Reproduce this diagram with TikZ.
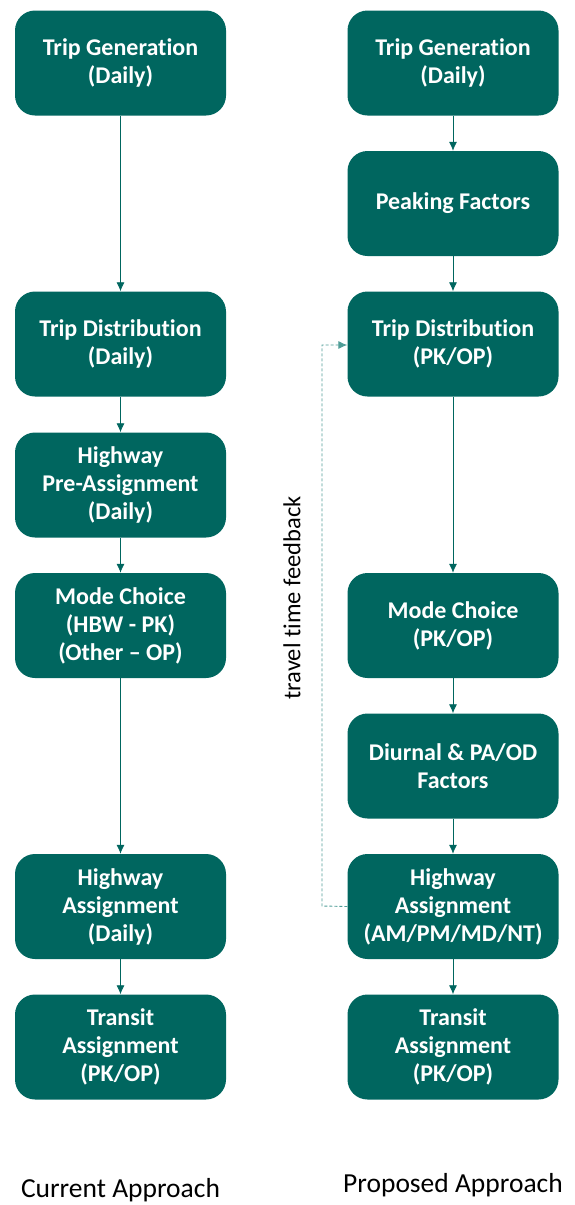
\documentclass[tikz,border=0pt]{standalone}
\usepackage{fontspec}
\setmainfont{Carlito}[Ligatures={NoCommon}]
\usepackage{tikz}
\usetikzlibrary{arrows.meta}
\definecolor{modelteal}{HTML}{00665F}
\definecolor{feedteal}{HTML}{4F9D97}
\tikzset{
    step-box/.style = {fill=modelteal, text=white, rectangle, rounded corners=20pt, minimum width=211pt, minimum height=105pt, align=center, font=\fontsize{24}{28}\selectfont\bfseries, inner sep=2pt},
    flow/.style = {draw=modelteal, line width=0.8pt, -{Latex[length=9pt,width=8pt]}},
    feedback/.style = {draw=feedteal, line width=0.9pt, dash pattern=on 3pt off 2pt, -{Latex[length=9pt,width=8pt]}},
    approach/.style = {font=\fontsize{27.5}{30}\selectfont},
}

\begin{document}
\begin{tikzpicture}[x=1pt,y=1pt]
\useasboundingbox (0,0) rectangle (574,-1205);

% current approach
\node [step-box] (cgen) at (120.5,-63) {Trip Generation\\(Daily)};
\node [step-box] (cdist) at (120.5,-344) {Trip Distribution\\(Daily)};
\node [step-box] (cpre) at (120.5,-485) {Highway\\Pre-Assignment\\(Daily)};
\node [step-box] (cmode) at (120.5,-625.5) {Mode Choice\\(HBW - PK)\\(Other -- OP)};
\node [step-box] (chwy) at (120.5,-906.5) {Highway\\Assignment\\(Daily)};
\node [step-box] (ctrn) at (120.5,-1047) {Transit\\Assignment\\(PK/OP)};

% proposed approach
\node [step-box] (pgen) at (453,-63) {Trip Generation\\(Daily)};
\node [step-box] (ppeak) at (453,-203.5) {Peaking Factors};
\node [step-box] (pdist) at (453,-344) {Trip Distribution\\(PK/OP)};
\node [step-box] (pmode) at (453,-625.5) {Mode Choice\\(PK/OP)};
\node [step-box] (pdiur) at (453,-766) {Diurnal \& PA/OD\\Factors};
\node [step-box] (phwy) at (453,-906.5) {Highway\\Assignment\\(AM/PM/MD/NT)};
\node [step-box] (ptrn) at (453,-1047) {Transit\\Assignment\\(PK/OP)};

\draw [flow] (cgen) -- (cdist);
\draw [flow] (cdist) -- (cpre);
\draw [flow] (cpre) -- (cmode);
\draw [flow] (cmode) -- (chwy);
\draw [flow] (chwy) -- (ctrn);

\draw [flow] (pgen) -- (ppeak);
\draw [flow] (ppeak) -- (pdist);
\draw [flow] (pdist) -- (pmode);
\draw [flow] (pmode) -- (pdiur);
\draw [flow] (pdiur) -- (phwy);
\draw [flow] (phwy) -- (ptrn);

% feedback loop
\coordinate (fbbot) at (322,-906);
\coordinate (fbtop) at (322,-345);
\draw [feedback] (phwy.west) -- (fbbot) -- (fbtop) -- (pdist.west |- fbtop);
\node [rotate=90, font=\fontsize{24.5}{28}\selectfont] (fblabel) at (292,-598) {travel time feedback};

\node [approach] (curlabel) at (120.5,-1190) {Current Approach};
\node [approach] (proplabel) at (453,-1185) {Proposed Approach};
\end{tikzpicture}
\end{document}
